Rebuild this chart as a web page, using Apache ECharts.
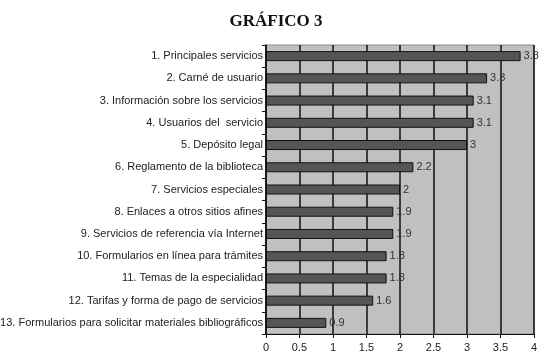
<!DOCTYPE html>
<html>
<head>
<meta charset="utf-8">
<script src="https://cdn.jsdelivr.net/npm/echarts@6/dist/echarts.min.js"></script>
<style>
  html, body { margin: 0; padding: 0; background: #fff; }
  #chart { width: 552px; height: 359px; }
</style>
</head>
<body>
<div id="chart"></div>
<script>
var categorias = [
  '1. Principales servicios',
  '2. Carné de usuario',
  '3. Información sobre los servicios',
  '4. Usuarios del  servicio',
  '5. Depósito legal',
  '6. Reglamento de la biblioteca',
  '7. Servicios especiales',
  '8. Enlaces a otros sitios afines',
  '9. Servicios de referencia vía Internet',
  '10. Formularios en línea para trámites',
  '11. Temas de la especialidad',
  '12. Tarifas y forma de pago de servicios',
  '13. Formularios para solicitar materiales bibliográficos'
];
var valores = [3.8, 3.3, 3.1, 3.1, 3, 2.2, 2, 1.9, 1.9, 1.8, 1.8, 1.6, 0.9];

var chart = echarts.init(document.getElementById('chart'));
var option = {
  animation: false,
  title: {
    text: 'GRÁFICO 3',
    left: 'center',
    top: 8,
    textStyle: {
      fontFamily: 'Liberation Serif',
      fontWeight: 'bold',
      fontSize: 17,
      color: '#111'
    }
  },
  grid: {
    left: 266,
    top: 45,
    width: 268,
    height: 289,
    outerBoundsMode: 'none',
    containLabel: false,
    show: true,
    backgroundColor: '#c0c0c0',
    borderColor: '#8a8a8a',
    borderWidth: 1
  },
  xAxis: {
    type: 'value',
    min: 0,
    max: 4,
    interval: 0.5,
    axisLine: { show: true, lineStyle: { color: '#111' } },
    axisTick: { show: true, length: 4, lineStyle: { color: '#111' } },
    axisLabel: {
      color: '#222',
      fontFamily: 'Liberation Sans',
      fontSize: 11,
      margin: 8
    },
    splitLine: { show: true, lineStyle: { color: '#111', width: 1.5 } }
  },
  yAxis: {
    type: 'category',
    inverse: true,
    data: categorias,
    axisLine: { show: true, lineStyle: { color: '#111', width: 1.5 } },
    axisTick: { show: true, length: 4, lineStyle: { color: '#111' } },
    axisLabel: {
      color: '#222',
      fontFamily: 'Liberation Sans',
      fontSize: 11,
      margin: 3
    }
  },
  series: [{
    type: 'bar',
    data: valores,
    barWidth: 10,
    itemStyle: { color: '#555555', borderColor: '#111', borderWidth: 1 },
    label: {
      show: true,
      position: 'right',
      distance: 3,
      color: '#333',
      fontFamily: 'Liberation Sans',
      fontSize: 11
    }
  }]
};
chart.setOption(option);
</script>
</body>
</html>
